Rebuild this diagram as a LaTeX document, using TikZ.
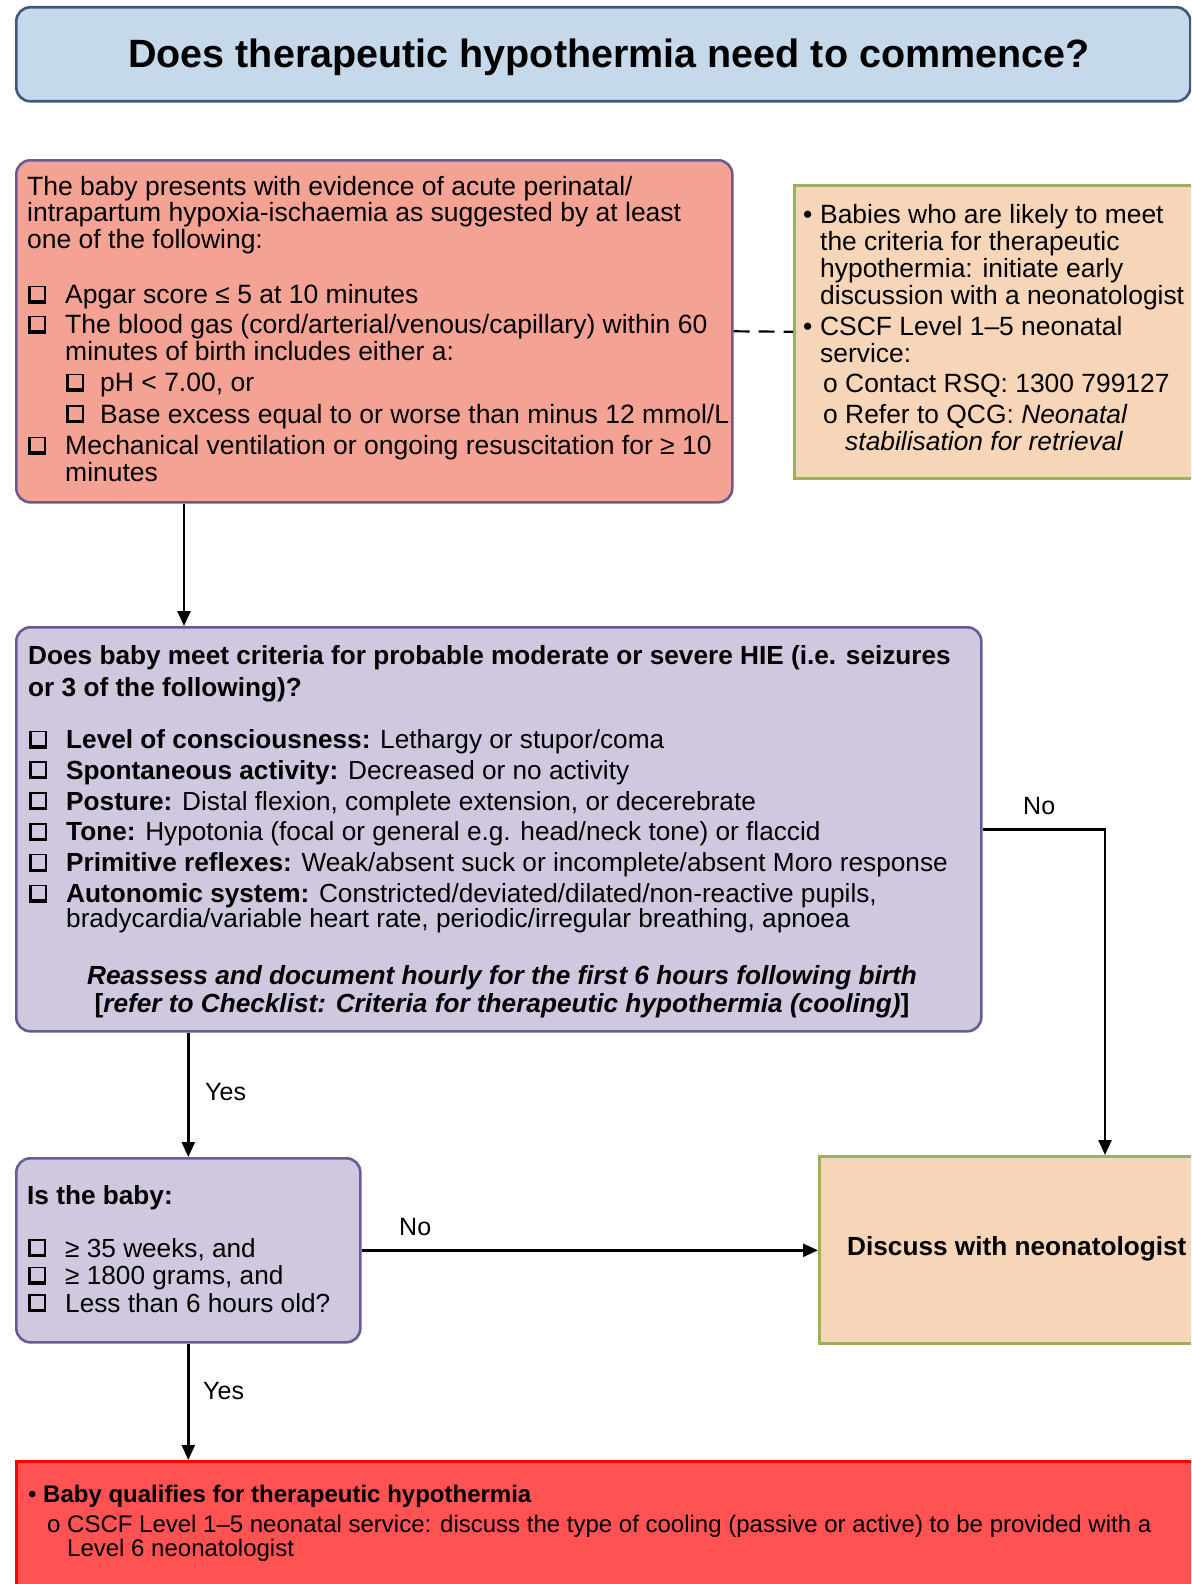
\documentclass[tikz,border=0pt]{standalone}
\usepackage{fontspec}
\setmainfont{Liberation Sans}
\usetikzlibrary{arrows.meta}
\definecolor{titlefill}{HTML}{C6D9EA}
\definecolor{titledraw}{HTML}{3F5A78}
\definecolor{salmon}{HTML}{F4A294}
\definecolor{purpdraw}{HTML}{6A5A96}
\definecolor{lavender}{HTML}{CFC8DF}
\definecolor{peach}{HTML}{F7D5B8}
\definecolor{olivedraw}{HTML}{9BB15C}
\definecolor{redfill}{HTML}{FF5252}
\definecolor{reddraw}{HTML}{FF0000}
\newcommand{\cbglyph}{\hspace*{1pt}\rlap{\rule{3pt}{18pt}}\rlap{\rule{18pt}{3.2pt}}\rlap{\raisebox{16.4pt}{\rule{18pt}{1.6pt}}}\hspace*{16.2pt}\rule{1.8pt}{18pt}}
\newcommand{\cbi}{\makebox[38pt][l]{\cbglyph}}
\newcommand{\cbs}{\makebox[35pt][l]{\cbglyph}}
\newcommand{\ind}{\hspace*{38pt}}
\tikzset{
  box/.style={draw, line width=2.6pt, inner sep=0pt, anchor=north west},
  roundbox/.style={box, rounded corners=14pt},
  txt/.style={inner sep=0pt, align=left, anchor=base west, font=\fontsize{26.5}{26.5}\selectfont},
  arr/.style={line width=2.4pt, -{Triangle[length=15pt,width=13pt]}},
  dashline/.style={line width=2.2pt, dash pattern=on 16pt off 9pt},
  lbl/.style={inner sep=0pt, anchor=west, font=\fontsize{25}{28}\selectfont},
}
\begin{document}
\begin{tikzpicture}[x=1pt,y=-1pt]
\useasboundingbox (0,0) rectangle (1191,1584);
\clip (0,0) rectangle (1191,1584);
% boxes
\node[roundbox, fill=titlefill, draw=titledraw, minimum width=1174, minimum height=94] (title) at (15,6) {};
\node[roundbox, fill=salmon, draw=purpdraw, minimum width=716, minimum height=342] (red) at (15,159) {};
\node[box, fill=peach, draw=olivedraw, minimum width=420, minimum height=293] (side) at (793,184) {};
\node[roundbox, fill=lavender, draw=purpdraw, minimum width=965, minimum height=404] (purple) at (15,626) {};
\node[roundbox, fill=lavender, draw=purpdraw, minimum width=344, minimum height=184] (isbaby) at (15,1157) {};
\node[box, fill=peach, draw=olivedraw, minimum width=400, minimum height=187] (discuss) at (818,1155) {};
\node[box, fill=redfill, draw=reddraw, minimum width=1200, minimum height=200] (qual) at (15,1460) {};
% texts
\node[inner sep=0pt, font=\bfseries\fontsize{39.5}{44}\selectfont] (titletxt) at (609,57) {Does therapeutic hypothermia need to commence?};
\node[txt] (redtxt) at (27,481) {The baby presents with evidence of acute perinatal/\\
intrapartum hypoxia-ischaemia as suggested by at least\\
one of the following:\\[29pt]
\cbi Apgar score ≤ 5 at 10 minutes\\[3.5pt]
\cbi The blood gas (cord/arterial/venous/capillary) within 60\\
\ind minutes of birth includes either a:\\[5pt]
\ind\cbs pH < 7.00, or\\[5pt]
\ind\cbs Base excess equal to or worse than minus 12 mmol/L\\[5pt]
\cbi Mechanical ventilation or ongoing resuscitation for ≥ 10\\
\ind minutes};
\node[txt, font=\fontsize{26.4}{27}\selectfont] (sidetxt) at (803,450) {\makebox[17pt][l]{•}Babies who are likely to meet\\
\hspace*{17pt}the criteria for therapeutic\\
\hspace*{17pt}hypothermia: initiate early\\
\hspace*{17pt}discussion with a neonatologist\\[4pt]
\makebox[17pt][l]{•}CSCF Level 1–5 neonatal\\
\hspace*{17pt}service:\\[3pt]
\hspace*{20pt}\makebox[22pt][l]{o}Contact RSQ: 1300 799127\\[4pt]
\hspace*{20pt}\makebox[22pt][l]{o}Refer to QCG: \textit{Neonatal}\\
\hspace*{42pt}\textit{stabilisation for retrieval}};
\node[txt, font=\fontsize{26.2}{24.5}\selectfont] (purptxt) at (28,927) {\textbf{Does baby meet criteria for probable moderate or severe HIE (i.e. seizures}\\[7.5pt]
\textbf{or 3 of the following)?}\\[26.5pt]
\cbi\textbf{Level of consciousness:} Lethargy or stupor/coma\\[6.3pt]
\cbi\textbf{Spontaneous activity:} Decreased or no activity\\[6.3pt]
\cbi\textbf{Posture:} Distal flexion, complete extension, or decerebrate\\[6.3pt]
\cbi\textbf{Tone:} Hypotonia (focal or general e.g. head/neck tone) or flaccid\\[6.3pt]
\cbi\textbf{Primitive reflexes:} Weak/absent suck or incomplete/absent Moro response\\[6.3pt]
\cbi\textbf{Autonomic system:} Constricted/deviated/dilated/non-reactive pupils,\\
\hspace*{38pt}bradycardia/variable heart rate, periodic/irregular breathing, apnoea};
\node[inner sep=0pt, align=center, anchor=base, font=\bfseries\fontsize{26.2}{28}\selectfont] (reassess) at (502,1012) {\textit{Reassess and document hourly for the first 6 hours following birth}\\
{[}\textit{refer to Checklist: Criteria for therapeutic hypothermia (cooling)}{]}};
\node[txt, font=\fontsize{26.2}{27.5}\selectfont] (isbabytxt) at (27,1312) {\textbf{Is the baby:}\\[25pt]
\cbi ≥ 35 weeks, and\\
\cbi ≥ 1800 grams, and\\
\cbi Less than 6 hours old?};
\node[inner sep=0pt, anchor=west, font=\bfseries\fontsize{26.2}{30}\selectfont] (discusstxt) at (847,1249) {Discuss with neonatologist};
\node[txt, font=\fontsize{24}{24}\selectfont] (qualtxt) at (28,1556) {\makebox[15pt][l]{•}\textbf{Baby qualifies for therapeutic hypothermia}\\[6pt]
\hspace*{19pt}\makebox[20pt][l]{o}CSCF Level 1–5 neonatal service: discuss the type of cooling (passive or active) to be provided with a\\
\hspace*{39pt}Level 6 neonatologist};
% connectors
\coordinate (c1) at (184,0);
\coordinate (c2) at (1105,0);
\draw[dashline] (red.east) -- (side.west);
\draw[arr] (red.south -| c1) -- (purple.north -| c1);
\draw[arr] (purple.east) -| (discuss.north -| c2);
\draw[arr] (purple.south -| isbaby.north) -- (isbaby.north);
\draw[arr] (isbaby.east) -- (isbaby.east -| discuss.west);
\draw[arr] (isbaby.south) -- (isbaby.south |- qual.north);
% labels
\node[lbl] (no1) at (1023,806) {No};
\node[lbl] (yes1) at (205,1092) {Yes};
\node[lbl] (no2) at (399,1227) {No};
\node[lbl] (yes2) at (203,1391) {Yes};
\end{tikzpicture}
\end{document}
